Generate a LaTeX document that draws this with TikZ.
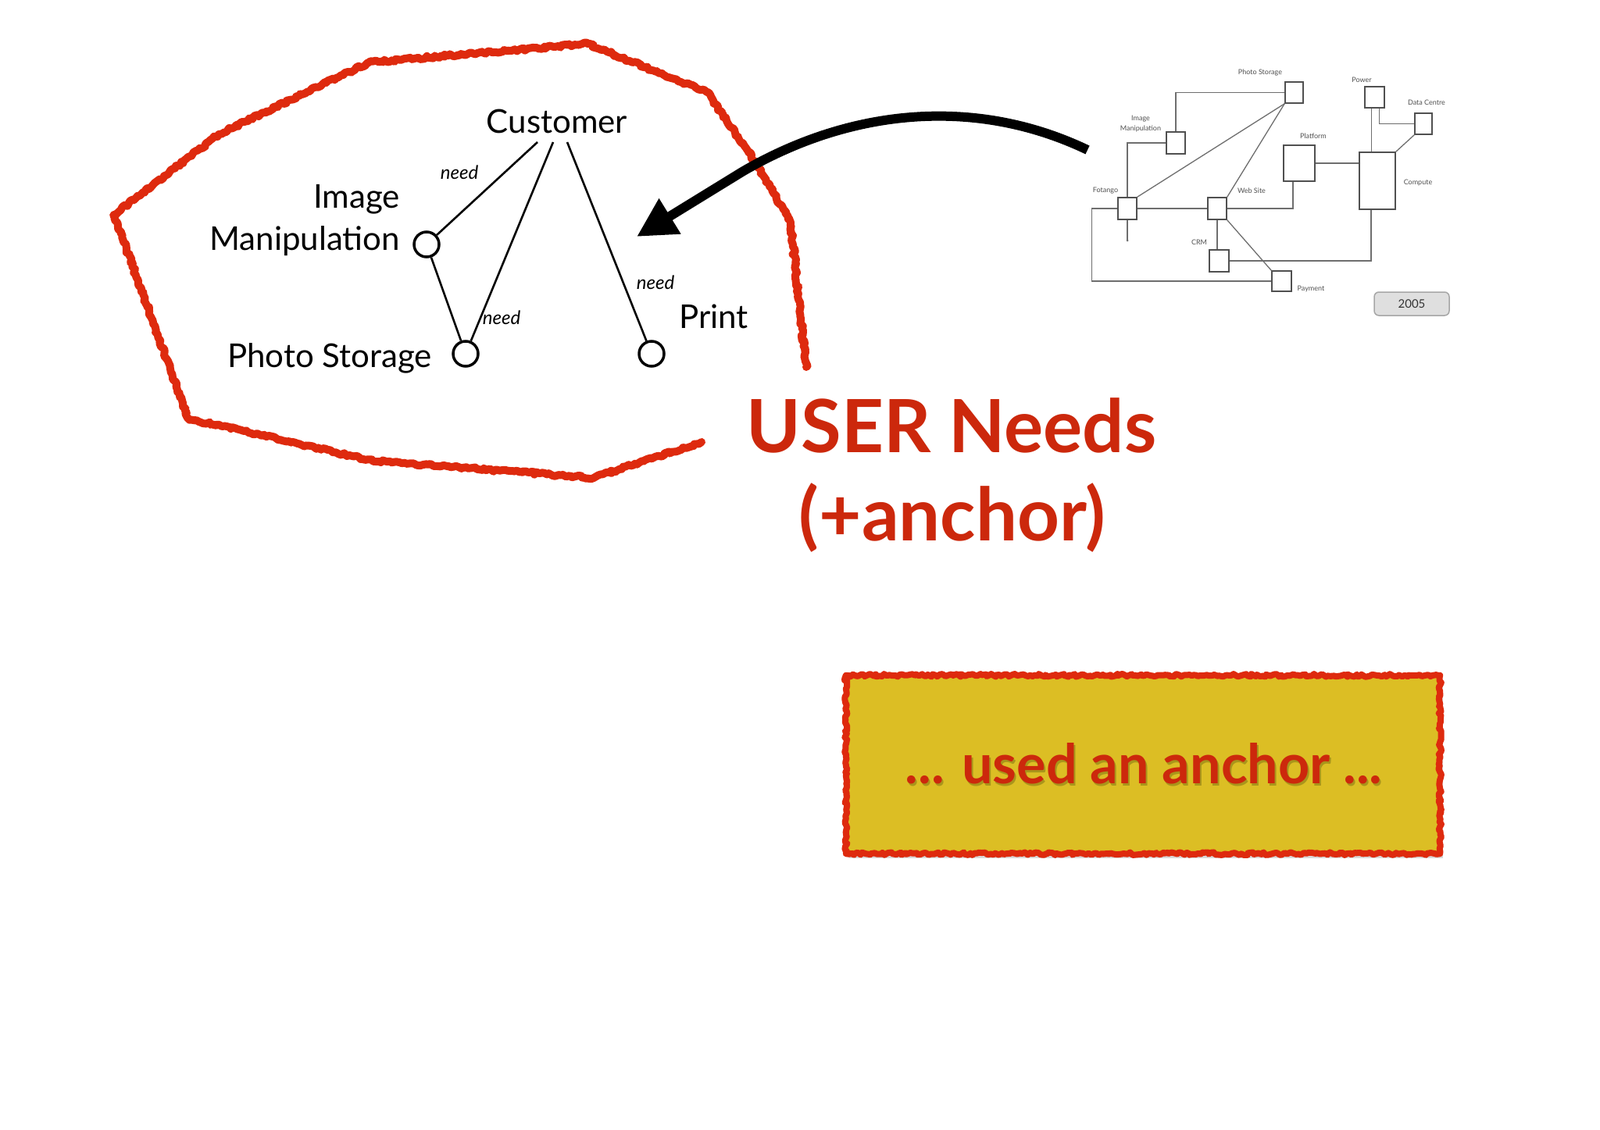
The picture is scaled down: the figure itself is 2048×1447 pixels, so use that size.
\documentclass[tikz,border=0pt]{standalone}
\usepackage{fontspec}
\setmainfont{Lato}
\usetikzlibrary{arrows.meta,decorations.pathmorphing,calc}
\definecolor{sketchred}{RGB}{222,42,14}
\definecolor{titlered}{RGB}{204,40,12}
\definecolor{boxyellow}{RGB}{220,190,36}
\definecolor{boxshadow}{RGB}{120,110,20}
\definecolor{minigray}{RGB}{80,80,80}
\definecolor{linkgray}{RGB}{110,110,110}
\begin{document}
\begin{tikzpicture}[x=1pt,y=-1pt,
  sketch/.style={draw=sketchred, line width=10, line join=round, line cap=round,
    decorate, decoration={random steps,segment length=3pt,amplitude=1.8pt}},
  bigtxt/.style={font=\fontsize{42}{48}\selectfont, inner sep=0},
  needlbl/.style={font=\fontsize{24}{28}\selectfont\itshape, inner sep=0},
  ring/.style={circle, draw, line width=3.5, minimum size=32, inner sep=0},
  link/.style={draw, line width=2.6},
  minibox/.style={draw=minigray, line width=1.6, inner sep=0, rectangle},
  minilbl/.style={font=\fontsize{9}{10}\selectfont, text=minigray, inner sep=0},
  minilink/.style={draw=linkgray, line width=1.3},
  titletxt/.style={font=\fontsize{94}{100}\selectfont\bfseries, text=titlered, inner sep=0}
]
\useasboundingbox (0,0) rectangle (2048,1447);
\fill[white] (0,0) rectangle (2048,1447);

% ---------- red sketch outline ----------
\draw[sketch] (898,566) -- (760,612) -- (477,590) -- (241,536) -- (146,275)
  -- (280,172) -- (472,80) -- (752,56) -- (905,118) -- (968,209) -- (1012,285) -- (1032,470);

% ---------- main needs diagram ----------
\node[bigtxt, anchor=base] (cust) at (713,171) {Customer};
\coordinate (c1) at (688,182);
\coordinate (c2) at (708,182);
\coordinate (c3) at (726,182);
\node[ring] (im) at (546,313) {};
\node[ring] (ps) at (596,453) {};
\node[ring] (pr) at (834,453) {};
\draw[link] (c1) -- (im);
\draw[link] (c2) -- (ps);
\draw[link] (c3) -- (pr);
\draw[link] (im) -- (ps);
\node[bigtxt, anchor=base east] (limg) at (512,267) {Image};
\node[bigtxt, anchor=base east] (lman) at (512,320) {Manipulation};
\node[bigtxt, anchor=base east] (lps) at (553,470) {Photo Storage};
\node[bigtxt, anchor=base west] (lpr) at (869,420) {Print};
\node[needlbl, anchor=base] (n1) at (588,230) {need};
\node[needlbl, anchor=base] (n2) at (642,415) {need};
\node[needlbl, anchor=base] (n3) at (839,370) {need};

% ---------- arrow ----------
\coordinate (atail) at (1392,192);
\coordinate (abend) at (950,220);
\coordinate (atip) at (815,303);
\draw[line width=12, -{Triangle[length=50pt,width=50pt]}]
  (atail) .. controls (1250,124) and (1090,138) .. (abend) -- (atip);

% ---------- mini architecture diagram ----------
\node[minibox, minimum width=23, minimum height=27] (mps) at (1656.5,118.5) {};
\node[minibox, minimum width=24, minimum height=28] (mim) at (1505,183) {};
\node[minibox, minimum width=25, minimum height=27] (mpow) at (1759.5,124.5) {};
\node[minibox, minimum width=22, minimum height=27] (mdc) at (1822,158.5) {};
\node[minibox, minimum width=40, minimum height=46] (mplat) at (1663,209) {};
\node[minibox, minimum width=46, minimum height=73] (mcomp) at (1763,231.5) {};
\node[minibox, minimum width=24, minimum height=28] (mfot) at (1443,267) {};
\node[minibox, minimum width=24, minimum height=28] (mweb) at (1558,267) {};
\node[minibox, minimum width=25, minimum height=28] (mcrm) at (1560.5,334) {};
\node[minibox, minimum width=25, minimum height=26] (mpay) at (1640.5,360) {};
\coordinate (mdot) at (1443,308);

\draw[minilink] (mps.west) -| (mim.north);
\draw[minilink] (mim.west) -| (mfot.north);
\draw[minilink] (mfot.north east) -- (mps.south west);
\draw[minilink] (mweb.north east) -- (mps.south west);
\draw[minilink] (mfot.east) -- (mweb.west);
\draw[minilink] (mweb.east) -| ([xshift=-8pt]mplat.south);
\draw[minilink] (mplat.east) -- (mplat.east -| mcomp.west);
\draw[minilink] ([xshift=-4pt]mpow.south) -- ([xshift=-4pt]mpow.south |- mcomp.north);
\draw[minilink] ([xshift=6pt]mpow.south) |- (mdc.west);
\draw[minilink] (mdc.south west) -- (mcomp.north east);
\draw[minilink] ([xshift=-8pt]mcomp.south) |- (mcrm.east);
\draw[minilink] (mweb.south) -- (mweb.south |- mcrm.north);
\draw[minilink] (mweb.south east) -- (mpay.north west);
\draw[minilink] (mfot.west) -- ++(-33,0) |- (mpay.west);
\draw[minilink] (mfot.south) -- (mdot);
\fill[linkgray] (mdot) circle (1.5);

\node[minilbl] (tps) at (1613,93) {Photo Storage};
\node[minilbl, align=center, font=\fontsize{9}{13}\selectfont] (tim) at (1460,159) {Image\\Manipulation};
\node[minilbl] (tpow) at (1743,102) {Power};
\node[minilbl] (tdc) at (1826,131) {Data Centre};
\node[minilbl] (tplat) at (1681,174) {Platform};
\node[minilbl] (tcomp) at (1815,234) {Compute};
\node[minilbl] (tfot) at (1415,244) {Fotango};
\node[minilbl] (tweb) at (1602,244) {Web Site};
\node[minilbl] (tcrm) at (1535,310) {CRM};
\node[minilbl] (tpay) at (1678,370) {Payment};
\node[draw=gray!70, fill=gray!25, rounded corners=6, line width=1.5,
  minimum width=96, minimum height=30, inner sep=0,
  font=\fontsize{15}{16}\selectfont, text=black!80] (y2005) at (1807,389) {2005};

% ---------- title ----------
\node[titletxt, anchor=base] (t1) at (1218,579) {USER Needs};
\node[titletxt, anchor=base] (t2) at (1219,692) {(+anchor)};

% ---------- yellow box ----------
\fill[black!25, opacity=0.6] (1087,871) rectangle (1847,1099);
\node[fill=boxyellow, minimum width=760, minimum height=228, inner sep=0] (ybox) at (1463,979) {};
\draw[sketch, line width=8] (ybox.north west) rectangle (ybox.south east);
\node[font=\fontsize{70}{76}\selectfont\bfseries, text=boxshadow, opacity=0.5, anchor=base, inner sep=0] (yshadow) at (1466,1006) {... used an anchor ...};
\node[font=\fontsize{70}{76}\selectfont\bfseries, text=titlered, anchor=base, inner sep=0] (ytxt) at (1464,1003) {... used an anchor ...};
\end{tikzpicture}
\end{document}
